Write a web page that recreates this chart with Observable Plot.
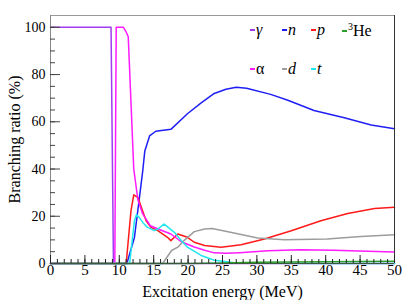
<!DOCTYPE html>
<html>
<head>
<meta charset="utf-8">
<script src="https://cdn.jsdelivr.net/npm/d3@7"></script>
<script src="https://cdn.jsdelivr.net/npm/@observablehq/plot@0.6"></script>
<style>
  body { margin: 0; background: #fff; }
  #wrap { position: relative; width: 415px; height: 300px; font-family: "Liberation Serif", "DejaVu Serif", serif; }
  #chart svg { display: block; font-family: "Liberation Serif", "DejaVu Serif", serif !important; }
  #chart svg text { font-family: "Liberation Serif", "DejaVu Serif", serif; }
  .leg { position: absolute; display: flex; align-items: center; font-size: 16px; color: #000; line-height: 1; }
  .leg .sw { width: 5px; height: 2px; margin-right: 1px; }
  .it { font-style: italic; }
</style>
</head>
<body>
<div id="wrap"><div id="chart"></div></div>
<script>
// ---- data ----
const seriesNames = ["γ", "n", "p", "3He", "α", "d", "t"];
const seriesColors = ["#a03cf0", "#1f1ff5", "#ff1a1a", "#2aa02a", "#ff1aff", "#9c9c9c", "#22e6ee"];

const gammaE = [0, 8.8, 9.15, 50];
const gammaBR = [100, 100, 0, 0];

const nE  = [0, 11.1, 12.2, 13.4, 13.7, 14.4, 15.3, 17.5, 19.9, 21.9, 23.8, 25.5, 27.0, 28.5, 32.0, 34.5, 38.3, 42.7, 46.6, 50];
const nBR = [0, 0, 11, 39, 47.5, 54, 56, 56.8, 63.4, 68, 72, 73.8, 74.6, 74.2, 71.6, 69.1, 64.8, 61.7, 58.6, 57.1];

const pE  = [0, 11.0, 11.7, 12.1, 12.7, 13.2, 13.9, 14.6, 15.6, 17.0, 17.5, 18.5, 19.9, 20.9, 22.4, 24.8, 27.7, 31.1, 35.0, 39.3, 43.2, 47.1, 50];
const pBR = [0, 0, 22.4, 29.1, 28, 23.8, 18.1, 15.3, 13.9, 11.1, 9.7, 12.5, 11.1, 9.0, 7.6, 6.9, 7.9, 10.4, 13.9, 18.1, 21.2, 23.3, 23.8];

const he3E  = [0, 20, 25, 30, 40, 50];
const he3BR = [0, 0, 0.2, 0.5, 0.7, 0.9];

const alphaE  = [0, 9.35, 9.55, 10.6, 11.0, 11.3, 11.7, 12.1, 12.7, 13.4, 14.5, 16.0, 17.5, 19.0, 20.9, 22.4, 23.8, 25.5, 27.5, 31.6, 36.4, 41.2, 46.1, 50];
const alphaBR = [0, 0, 100, 100, 98, 96, 68, 40, 27, 21, 16, 14.2, 12.5, 9.2, 7.0, 5.6, 4.5, 4.3, 4.6, 5.4, 5.8, 5.6, 5.2, 4.9];

const dE  = [0, 16.3, 17.6, 18.5, 19.4, 20.9, 22.4, 23.5, 26.5, 30.1, 34.0, 40.2, 45.1, 50];
const dBR = [0, 0, 5.5, 6.9, 9.7, 13.5, 14.6, 14.8, 13.0, 10.8, 10.1, 10.4, 11.4, 12.2];

const tE  = [0, 11.5, 12.2, 12.5, 12.9, 13.4, 14.1, 15.1, 15.6, 16.5, 16.8, 18.0, 19.0, 19.9, 21.9, 23.8, 26.5, 28, 30, 40, 50];
const tBR = [0, 0, 18.1, 20.7, 19.5, 17.4, 15.3, 13.9, 14.6, 16.7, 16.0, 13.2, 9.7, 6.9, 3.4, 1.4, 0.4, 0.2, 0.1, 0.05, 0];

const xMajorTicks = [0, 5, 10, 15, 20, 25, 30, 35, 40, 45, 50];
const xMinorTicks = d3.range(0, 51, 1);
const yMajorTicks = [0, 20, 40, 60, 80, 100];
const yMinorTicks = d3.range(0, 105, 5);

// ---- build table ----
const seriesData = {
  "γ": [gammaE, gammaBR], "n": [nE, nBR], "p": [pE, pBR], "3He": [he3E, he3BR],
  "α": [alphaE, alphaBR], "d": [dE, dBR], "t": [tE, tBR]
};
const drawOrder = ["γ", "n", "p", "α", "d", "t", "3He"];
const rows = drawOrder.flatMap(s => seriesData[s][0].map((e, i) => ({s, E: e, BR: seriesData[s][1][i]})));

const font = "'Liberation Serif', 'DejaVu Serif', serif";
const blank = () => "";

const chart = Plot.plot({
  width: 415, height: 300,
  marginLeft: 50, marginRight: 21, marginTop: 15, marginBottom: 37,
  style: {fontFamily: font, background: "white", overflow: "visible"},
  x: {domain: [0, 50]},
  y: {domain: [0, 105]},
  color: {domain: seriesNames, range: seriesColors},
  marks: [
    Plot.line(rows, {x: "E", y: "BR", z: "s", stroke: "s", strokeWidth: 1.5}),
    // frame
    Plot.ruleY([105], {stroke: "#999"}),
    Plot.ruleX([50], {stroke: "#333"}),
    Plot.ruleX([0], {stroke: "#888"}),
    Plot.ruleY([0], {stroke: "#3a5a3a"}),
    // inward ticks
    Plot.axisX(xMinorTicks, {tickSize: -4, tickFormat: blank, label: null, stroke: "#222"}),
    Plot.axisX(xMajorTicks, {tickSize: -8, tickFormat: blank, label: null, stroke: "#222"}),
    Plot.axisY(yMinorTicks, {tickSize: -5, tickFormat: blank, label: null, stroke: "#444"}),
    Plot.axisY(yMajorTicks, {tickSize: -10, tickFormat: blank, label: null, stroke: "#444"}),
    // labels
    Plot.axisX(xMajorTicks, {tickSize: 0, tickPadding: 1, fontSize: 15, fontFamily: font, label: null, fill: "#000"}),
    Plot.axisY(yMajorTicks, {tickSize: 0, tickPadding: 5, fontSize: 14, fontFamily: font, label: null, fill: "#000"}),
    Plot.axisX({ticks: [], label: "Excitation energy (MeV)", labelAnchor: "center", labelArrow: "none", labelOffset: 33, fontSize: 16, fontFamily: font, tickSize: 0}),
    Plot.axisY({ticks: [], label: "Branching ratio (%)", labelAnchor: "center", labelArrow: "none", labelOffset: 42, fontSize: 16, fontFamily: font, tickSize: 0})
  ]
});
document.getElementById("chart").appendChild(chart);

// ---- legend inside the frame ----
const legendCols = [250, 282, 311, 342];
const legendRows = [22, 61];
const legendItems = [
  {s: "γ", html: "γ", it: true}, {s: "n", html: "n", it: true}, {s: "p", html: "p", it: true}, {s: "3He", html: "<sup style='font-size:10px'>3</sup>He", it: false},
  {s: "α", html: "α", it: false}, {s: "d", html: "d", it: true}, {s: "t", html: "t", it: true}
];
const wrap = document.getElementById("wrap");
legendItems.forEach((item, i) => {
  const r = i < 4 ? 0 : 1, c = i < 4 ? i : i - 4;
  const el = document.createElement("div");
  el.className = "leg";
  el.style.left = legendCols[c] + "px";
  el.style.top = legendRows[r] + "px";
  const color = seriesColors[seriesNames.indexOf(item.s)];
  el.innerHTML = `<span class="sw" style="background:${color}"></span><span class="${item.it ? "it" : ""}">${item.html}</span>`;
  wrap.appendChild(el);
});
</script>
</body>
</html>
